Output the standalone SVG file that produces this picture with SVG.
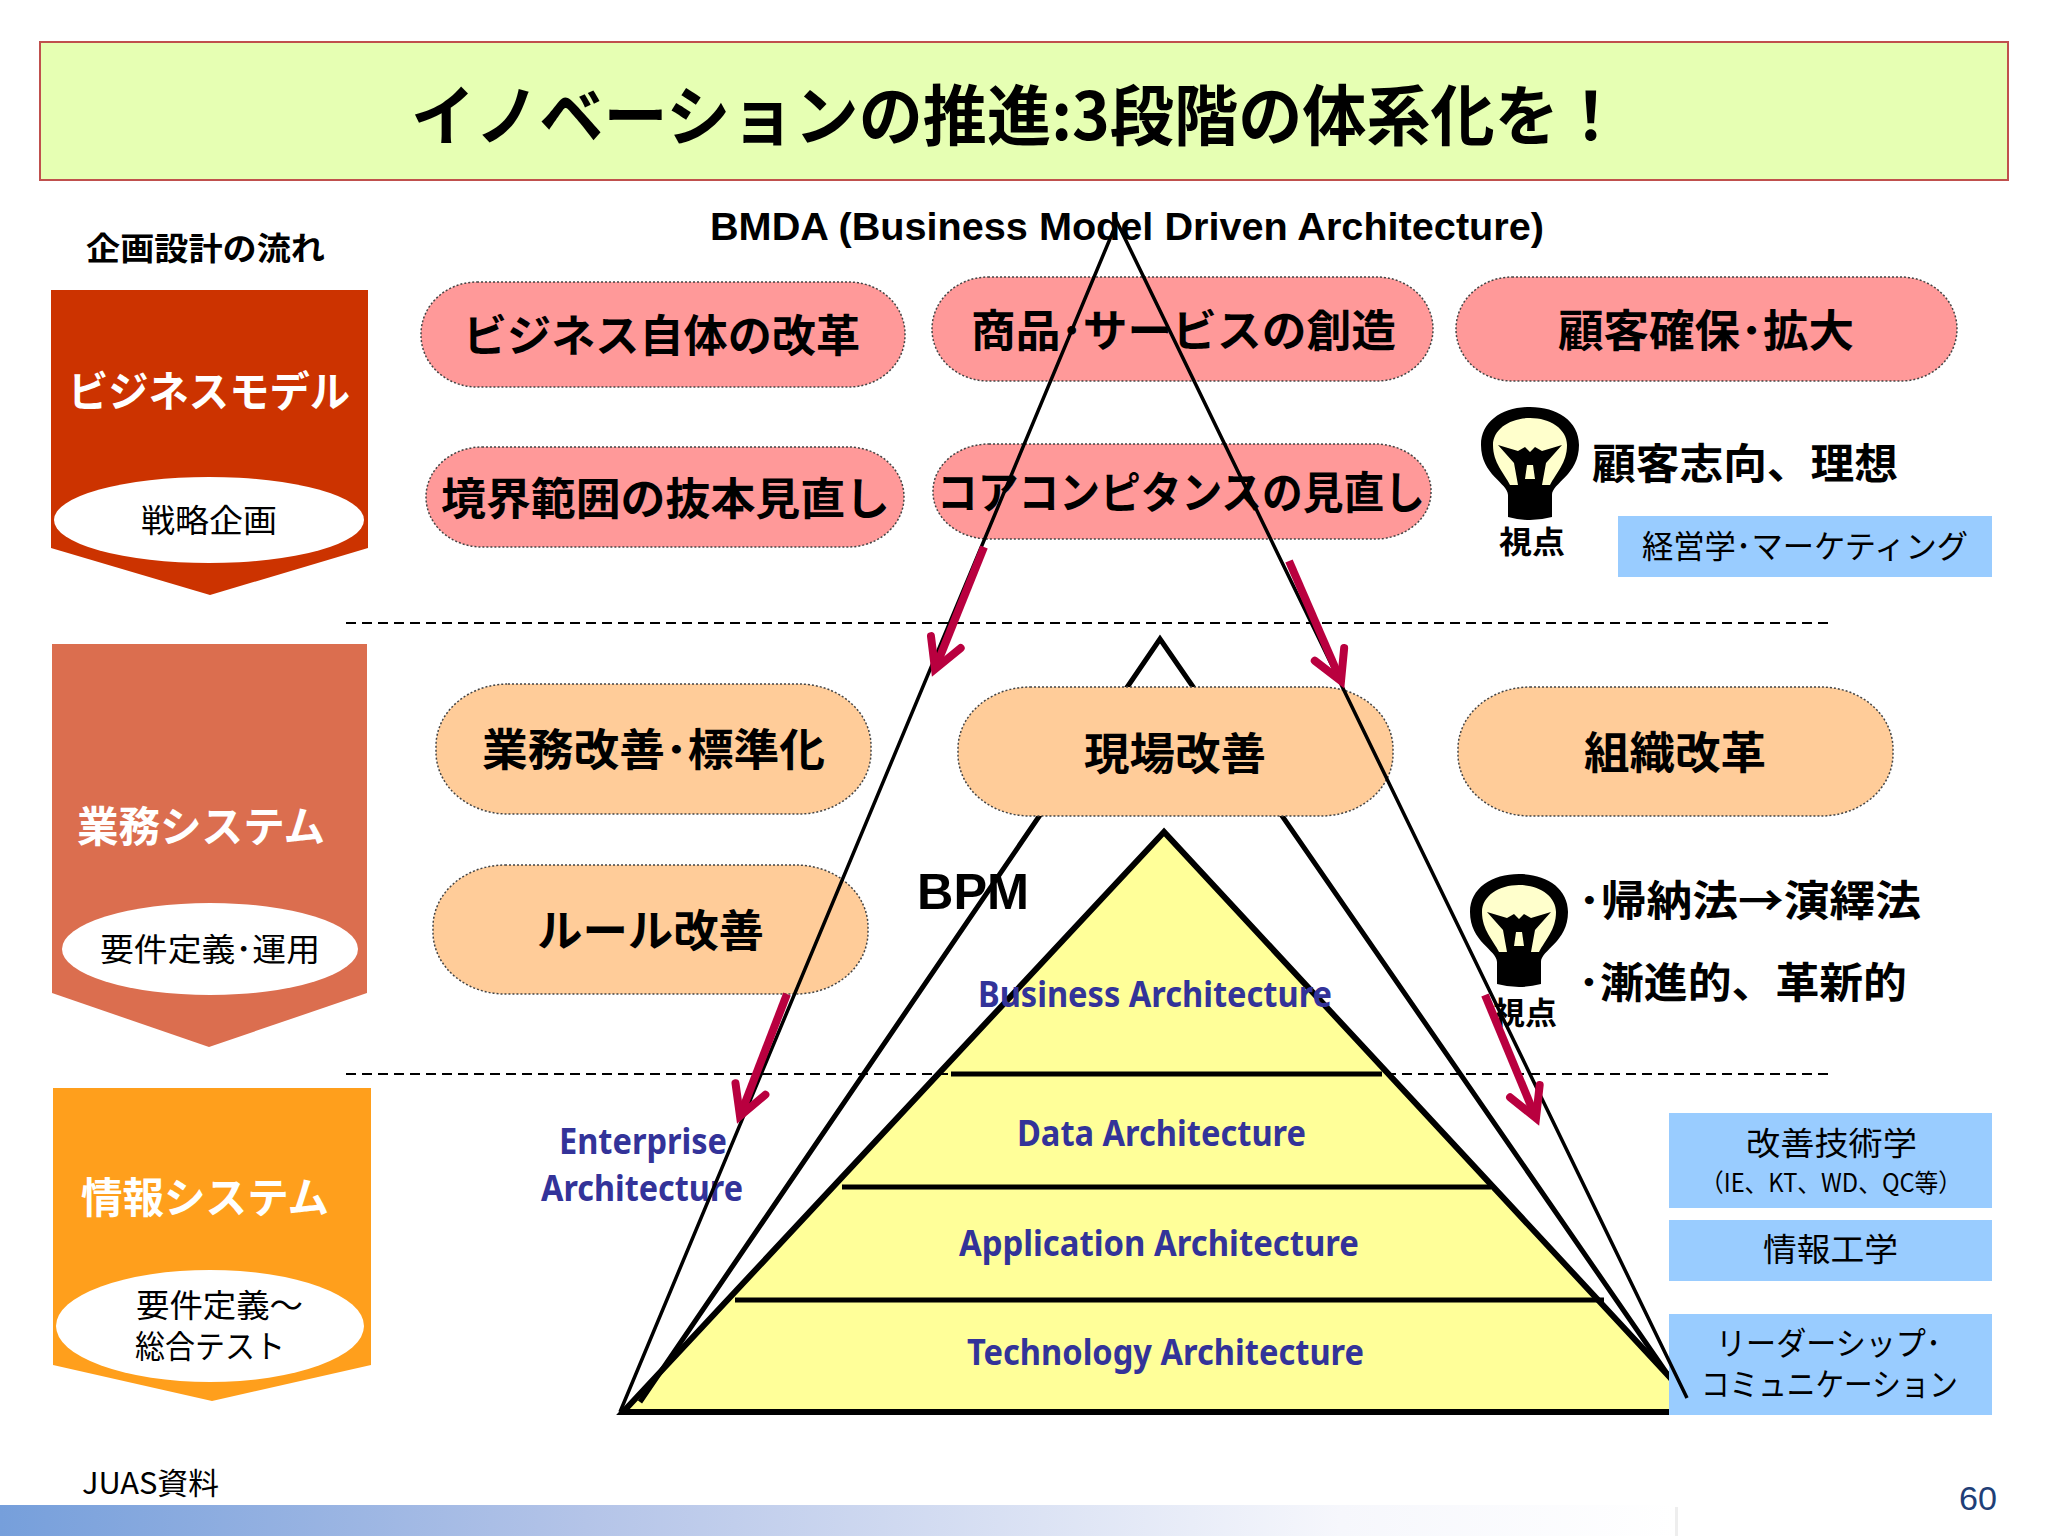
<svg xmlns="http://www.w3.org/2000/svg" width="2048" height="1536" viewBox="0 0 2048 1536">
<style>
text{font-family:"Noto Sans CJK JP","Liberation Sans",sans-serif;fill:#000}
.b{font-weight:700}
.lat{font-family:"Liberation Sans",Arial,sans-serif;font-weight:700}
.w{fill:#fff;font-weight:700;font-size:42px}
.p{font-weight:700;font-size:44px}
.r{font-size:32px}
.ea{font-family:"Noto Sans","Open Sans",sans-serif;font-weight:700;font-size:35px;fill:#333399}
.pink{fill:#FF9999;stroke:#444;stroke-width:1.5;stroke-dasharray:2 2}
.orange{fill:#FFCC99;stroke:#444;stroke-width:1.5;stroke-dasharray:2 2}
.blue{fill:#99CCFF}
.dash{stroke:#000;stroke-width:2;stroke-dasharray:10 6;fill:none}
.bar{stroke:#000;stroke-width:5;fill:none}
.line{stroke:#000;stroke-width:3.5;fill:none}
.red{stroke:#B9003F;stroke-width:8;fill:none;marker-end:url(#head)}
</style>
<defs>
<linearGradient id="fade" x1="0" x2="1" y1="0" y2="0">
<stop offset="0" stop-color="#769FDB"/><stop offset="0.35" stop-color="#B4C4E8"/><stop offset="0.8" stop-color="#F6F7FC"/><stop offset="1" stop-color="#FFFFFF"/>
</linearGradient>
<marker id="head" markerUnits="userSpaceOnUse" markerWidth="60" markerHeight="60" refX="46" refY="30" orient="auto" overflow="visible">
<path d="M17,14 L46,30 L17,46" fill="none" stroke="#B9003F" stroke-width="8" stroke-linecap="round" stroke-linejoin="miter"/>
</marker>
<g id="bulb">
<path d="M-22,72 L-22,50 C-22,38 -49,30 -49,0 C-49,-24 -27,-38 0,-38 C27,-38 49,-24 49,0 C49,30 22,38 22,50 L22,72 Q0,78 -22,72 Z" fill="#000"/>
<path d="M-20,40 C-26,28 -37,18 -37,0 C-37,-16 -20,-27 0,-27 C20,-27 37,-16 37,0 C37,18 26,28 20,40 Z" fill="#FFFFCC"/>
<path d="M-32,0 L-12,6 L-5,2 L0,7 L5,2 L12,6 L32,0 L16,18 L12,40 L-12,40 L-16,18 Z" fill="#000"/>
<path d="M-3,20 L3,20 L5,34 L-5,34 Z" fill="#FFFFCC"/>
</g>
</defs>
<rect width="2048" height="1536" fill="#fff"/>
<rect x="0" y="1505" width="1675" height="31" fill="url(#fade)"/>
<rect x="1675" y="1507" width="3" height="29" fill="#EEEEEE"/>

<g id="title"><rect x="40" y="42" width="1968" height="138" fill="#E6FFB3" stroke="#C0504D" stroke-width="2"/>
<text x="411" y="140" class="b" font-size="66" textLength="1212" lengthAdjust="spacingAndGlyphs">イノベーションの推進:3段階の体系化を！</text></g>

<text x="86" y="260" class="b" font-size="32" textLength="239" lengthAdjust="spacingAndGlyphs">企画設計の流れ</text>
<text x="710" y="240" class="lat" font-size="39" textLength="834" lengthAdjust="spacingAndGlyphs">BMDA (Business Model Driven Architecture)</text>

<g id="stage-business"><path d="M51,290 H368 V548 L210,595 L51,548 Z" fill="#CC3300"/>
<ellipse cx="209" cy="520" rx="155" ry="43" fill="#fff"/>
<text x="68" y="407" class="w" textLength="282" lengthAdjust="spacingAndGlyphs">ビジネスモデル</text>
<text x="141" y="532" class="r" textLength="136" lengthAdjust="spacingAndGlyphs">戦略企画</text></g>

<g id="stage-operations"><path d="M52,644 H367 V993 L209,1047 L52,993 Z" fill="#DB6E4F"/>
<ellipse cx="210" cy="949" rx="148" ry="46" fill="#fff"/>
<text x="77" y="842" class="w" textLength="248" lengthAdjust="spacingAndGlyphs">業務システム</text>
<text x="100" y="961" class="r" textLength="220" lengthAdjust="spacingAndGlyphs">要件定義･運用</text></g>

<g id="stage-information"><path d="M53,1088 H371 V1365 L212,1401 L53,1365 Z" fill="#FF9F1C"/>
<ellipse cx="210" cy="1326" rx="154" ry="56" fill="#fff"/>
<text x="81" y="1213" class="w" textLength="248" lengthAdjust="spacingAndGlyphs">情報システム</text>
<text x="136" y="1317" class="r" textLength="167" lengthAdjust="spacingAndGlyphs">要件定義～</text>
<text x="135" y="1358" class="r" textLength="150" lengthAdjust="spacingAndGlyphs">総合テスト</text></g>

<g id="pyramid">
<polygon points="1164,832 623,1412 1702,1412" fill="#FFFF99" stroke="#000" stroke-width="6"/>
<path d="M640,1402 L1160,639 L1675,1385" fill="none" stroke="#000" stroke-width="5"/>
<line class="bar" x1="951" y1="1074" x2="1382" y2="1074"/>
<line class="bar" x1="842" y1="1187" x2="1491" y2="1187"/>
<line class="bar" x1="735" y1="1300" x2="1604" y2="1300"/>
<line class="bar" x1="620" y1="1412" x2="1702" y2="1412" stroke-width="6"/>
<text x="978" y="1007" class="ea" textLength="354" lengthAdjust="spacingAndGlyphs">Business Architecture</text>
<text x="1017" y="1146" class="ea" textLength="289" lengthAdjust="spacingAndGlyphs">Data Architecture</text>
<text x="959" y="1256" class="ea" textLength="400" lengthAdjust="spacingAndGlyphs">Application Architecture</text>
<text x="967" y="1365" class="ea" textLength="397" lengthAdjust="spacingAndGlyphs">Technology Architecture</text>
</g>

<g id="pill-1"><rect class="pink" x="421" y="282" width="484" height="105" rx="56" ry="52"/><text x="463" y="352" class="p" textLength="397" lengthAdjust="spacingAndGlyphs">ビジネス自体の改革</text></g>
<g id="pill-2"><rect class="pink" x="932" y="277" width="501" height="104" rx="56" ry="52"/><text x="971" y="347" class="p" textLength="425" lengthAdjust="spacingAndGlyphs">商品･サービスの創造</text></g>
<g id="pill-3"><rect class="pink" x="1456" y="277" width="501" height="104" rx="56" ry="52"/><text x="1558" y="347" class="p" textLength="296" lengthAdjust="spacingAndGlyphs">顧客確保･拡大</text></g>
<g id="pill-4"><rect class="pink" x="426" y="447" width="478" height="100" rx="56" ry="50"/><text x="441" y="515" class="p" textLength="449" lengthAdjust="spacingAndGlyphs">境界範囲の抜本見直し</text></g>
<g id="pill-5"><rect class="pink" x="933" y="444" width="498" height="95" rx="56" ry="47"/><text x="937" y="509" class="p" textLength="488" lengthAdjust="spacingAndGlyphs">コアコンピタンスの見直し</text></g>
<g id="pill-6"><rect class="orange" x="436" y="684" width="435" height="130" rx="72" ry="62"/><text x="482" y="766" class="p" textLength="343" lengthAdjust="spacingAndGlyphs">業務改善･標準化</text></g>
<g id="pill-7"><rect class="orange" x="958" y="687" width="435" height="129" rx="72" ry="62"/><text x="1084" y="770" class="p" textLength="182" lengthAdjust="spacingAndGlyphs">現場改善</text></g>
<g id="pill-8"><rect class="orange" x="1458" y="687" width="435" height="129" rx="72" ry="62"/><text x="1584" y="769" class="p" textLength="182" lengthAdjust="spacingAndGlyphs">組織改革</text></g>
<g id="pill-9"><rect class="orange" x="433" y="865" width="435" height="129" rx="72" ry="62"/><text x="537" y="947" class="p" textLength="227" lengthAdjust="spacingAndGlyphs">ルール改善</text></g>

<g id="view-1"><use href="#bulb" x="1530" y="445"/>
<text x="1499" y="553" class="b" font-size="31" textLength="66" lengthAdjust="spacingAndGlyphs">視点</text>
<text x="1592" y="479" class="b" font-size="42" textLength="306" lengthAdjust="spacingAndGlyphs">顧客志向、理想</text></g>
<g id="box-1"><rect class="blue" x="1618" y="516" width="374" height="61"/><text x="1642" y="558" class="r" textLength="326" lengthAdjust="spacingAndGlyphs">経営学･マーケティング</text></g>

<g id="view-2"><use href="#bulb" x="1519" y="912"/>
<text x="1493" y="1024" class="b" font-size="31" textLength="64" lengthAdjust="spacingAndGlyphs">視点</text>
<text x="1578" y="916" class="b" font-size="42" textLength="343" lengthAdjust="spacingAndGlyphs">･帰納法→演繹法</text>
<text x="1578" y="998" class="b" font-size="42" textLength="329" lengthAdjust="spacingAndGlyphs">･漸進的、革新的</text></g>

<g id="box-2"><rect class="blue" x="1669" y="1113" width="323" height="95"/>
<text x="1746" y="1155" class="r" textLength="171" lengthAdjust="spacingAndGlyphs">改善技術学</text>
<text x="1700" y="1192" font-size="25" textLength="262" lengthAdjust="spacingAndGlyphs">（IE、KT、WD、QC等）</text></g>
<g id="box-3"><rect class="blue" x="1669" y="1220" width="323" height="61"/><text x="1763" y="1261" class="r" textLength="135" lengthAdjust="spacingAndGlyphs">情報工学</text></g>
<g id="box-4"><rect class="blue" x="1669" y="1314" width="323" height="101"/>
<text x="1716" y="1355" class="r" textLength="225" lengthAdjust="spacingAndGlyphs">リーダーシップ･</text>
<text x="1701" y="1396" class="r" textLength="257" lengthAdjust="spacingAndGlyphs">コミュニケーション</text></g>

<text x="917" y="909" class="lat" font-size="50" textLength="112" lengthAdjust="spacingAndGlyphs">BPM</text>
<text x="559" y="1154" class="ea" textLength="168" lengthAdjust="spacingAndGlyphs">Enterprise</text>
<text x="541" y="1201" class="ea" textLength="202" lengthAdjust="spacingAndGlyphs">Architecture</text>
<text x="82" y="1494" font-size="30" fill="#222" textLength="137" lengthAdjust="spacingAndGlyphs">JUAS資料</text>
<text x="1959" y="1510" class="lat" font-size="33" style="font-weight:400;fill:#1F3F77" textLength="38" lengthAdjust="spacingAndGlyphs">60</text>

<g id="connectors">
<line class="dash" x1="346" y1="623" x2="1833" y2="623"/>
<line class="dash" x1="346" y1="1074" x2="1833" y2="1074"/>
<path class="line" d="M620,1412 L1117,222 L1687,1398"/>
<line class="red" x1="984" y1="547" x2="935" y2="669"/>
<line class="red" x1="1289" y1="561" x2="1341" y2="681"/>
<line class="red" x1="787" y1="994" x2="740" y2="1116"/>
<line class="red" x1="1485" y1="995" x2="1536" y2="1118"/>
</g>
</svg>
